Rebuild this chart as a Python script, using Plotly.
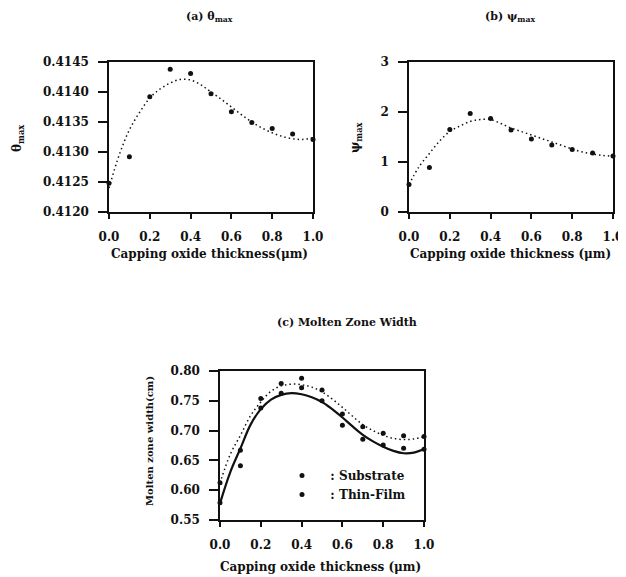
import plotly.graph_objects as go

W, H = 626, 577
OX, OY = 8, 8  # page body margin offset

# ---------------- data ----------------
x_pts = [0.0, 0.1, 0.2, 0.3, 0.4, 0.5, 0.6, 0.7, 0.8, 0.9, 1.0]
x_fit = [0.0, 0.05, 0.1, 0.15, 0.2, 0.25, 0.3, 0.35, 0.4, 0.45, 0.5,
         0.55, 0.6, 0.65, 0.7, 0.75, 0.8, 0.85, 0.9, 0.95, 1.0]

theta_pts = [0.41248, 0.41292, 0.41392, 0.41438, 0.41431, 0.41397,
             0.41367, 0.41349, 0.41339, 0.41330, 0.41321]
theta_fit = [0.41240, 0.41295, 0.41337, 0.41366, 0.41390, 0.41405, 0.41415,
             0.41421, 0.41420, 0.41412, 0.41400, 0.41388, 0.41375, 0.41362,
             0.41350, 0.41340, 0.41332, 0.41326, 0.41322, 0.41321, 0.41324]

psi_pts = [0.55, 0.89, 1.65, 1.97, 1.87, 1.64, 1.46, 1.34, 1.25, 1.18, 1.12]
psi_fit = [0.55, 0.91, 1.17, 1.42, 1.61, 1.72, 1.81, 1.85, 1.85, 1.77, 1.68,
           1.61, 1.54, 1.47, 1.40, 1.33, 1.26, 1.20, 1.16, 1.13, 1.12]

thin_pts = [0.6126, 0.667, 0.754, 0.779, 0.788, 0.768, 0.728, 0.7066,
            0.6954, 0.6915, 0.690]
sub_pts = [0.579, 0.641, 0.738, 0.7625, 0.772, 0.750, 0.709, 0.6853,
           0.6758, 0.6702, 0.6686]
thin_fit = [0.612, 0.660, 0.692, 0.725, 0.748, 0.766, 0.775, 0.778, 0.777,
            0.773, 0.765, 0.753, 0.739, 0.724, 0.710, 0.700, 0.692, 0.687,
            0.685, 0.686, 0.690]
sub_fit = [0.578, 0.630, 0.670, 0.710, 0.736, 0.752, 0.760, 0.763, 0.761,
           0.756, 0.748, 0.736, 0.722, 0.707, 0.693, 0.682, 0.673, 0.666,
           0.662, 0.663, 0.669]

x_ticks = [0.0, 0.2, 0.4, 0.6, 0.8, 1.0]
theta_ticks = [0.4120, 0.4125, 0.4130, 0.4135, 0.4140, 0.4145]
psi_ticks = [0, 1, 2, 3]
mzw_ticks = [0.55, 0.60, 0.65, 0.70, 0.75, 0.80]

# ---------------- style ----------------
SERIF = "DejaVu Serif"
INK = "#111111"
tick_font = dict(family=SERIF, size=12, color=INK, weight="bold")
DOT = "1.5px,3px"


def px(xp):
    return (xp - OX) / W


def py(yp):
    return 1 - (yp - OY) / H


fig = go.Figure()

marker = dict(symbol="circle", size=5, color=INK)
dotted = dict(color=INK, width=1.5, dash=DOT, shape="spline")

# (a)
fig.add_trace(go.Scatter(x=x_fit, y=theta_fit, mode="lines", line=dotted,
                         xaxis="x", yaxis="y", showlegend=False, cliponaxis=False))
fig.add_trace(go.Scatter(x=x_pts, y=theta_pts, mode="markers", marker=marker,
                         xaxis="x", yaxis="y", showlegend=False, cliponaxis=False))
# (b)
fig.add_trace(go.Scatter(x=x_fit, y=psi_fit, mode="lines", line=dotted,
                         xaxis="x2", yaxis="y2", showlegend=False, cliponaxis=False))
fig.add_trace(go.Scatter(x=x_pts, y=psi_pts, mode="markers", marker=marker,
                         xaxis="x2", yaxis="y2", showlegend=False, cliponaxis=False))
# (c)
fig.add_trace(go.Scatter(x=x_fit, y=thin_fit, mode="lines", line=dotted,
                         xaxis="x3", yaxis="y3", showlegend=False, cliponaxis=False))
fig.add_trace(go.Scatter(x=x_fit, y=sub_fit, mode="lines",
                         line=dict(color=INK, width=2.2, shape="spline"),
                         xaxis="x3", yaxis="y3", showlegend=False, cliponaxis=False))
fig.add_trace(go.Scatter(x=x_pts, y=thin_pts, mode="markers", marker=marker, name="  : Substrate",
                         xaxis="x3", yaxis="y3", showlegend=True, cliponaxis=False))
fig.add_trace(go.Scatter(x=x_pts, y=sub_pts, mode="markers", marker=marker, name="  : Thin-Film",
                         xaxis="x3", yaxis="y3", showlegend=True, cliponaxis=False))


def xaxis(domain, anchor):
    return dict(domain=domain, anchor=anchor, range=[0, 1.0], tickvals=x_ticks, tickformat=".1f",
                showline=True, linecolor=INK, linewidth=1.5, mirror=True, ticks="outside",
                ticklen=5, tickwidth=1.5, tickcolor=INK, showgrid=False, zeroline=False,
                tickfont=tick_font, ticklabelstandoff=8, automargin=False,
                ticklabeloverflow="allow")


def yaxis(domain, anchor, rng, ticks, fmt):
    return dict(domain=domain, anchor=anchor, range=rng, tickvals=ticks, tickformat=fmt,
                showline=True, linecolor=INK, linewidth=1.5, mirror=True, ticks="outside",
                ticklen=9, tickwidth=1.5, tickcolor=INK, showgrid=False, zeroline=False,
                tickfont=tick_font, ticklabelstandoff=7, automargin=False,
                ticklabeloverflow="allow")


dom_a_x = [px(109), px(313)]
dom_b_x = [px(409), px(613)]
dom_ab_y = [py(212), py(62)]
dom_c_x = [px(220), px(424)]
dom_c_y = [py(520), py(371)]

fig.update_layout(
    template="none",
    width=W, height=H,
    margin=dict(l=0, r=0, t=0, b=0, autoexpand=False),
    paper_bgcolor="white", plot_bgcolor="white",
    xaxis=xaxis(dom_a_x, "y"),
    yaxis=yaxis(dom_ab_y, "x", [0.4120, 0.4145], theta_ticks, ".4f"),
    xaxis2=xaxis(dom_b_x, "y2"),
    yaxis2=yaxis(dom_ab_y, "x2", [0, 3], psi_ticks, "d"),
    xaxis3=xaxis(dom_c_x, "y3"),
    yaxis3=yaxis(dom_c_y, "x3", [0.55, 0.80], mzw_ticks, ".2f"),
    legend=dict(x=px(282), y=py(461), xanchor="left", yanchor="top",
                bgcolor="rgba(0,0,0,0)", borderwidth=0,
                font=dict(family=SERIF, size=12, color=INK, weight="bold"),
                itemwidth=30, tracegroupgap=0),
    showlegend=True,
)

ann = []


def add_text(text, x, y, size=12, angle=0):
    ann.append(dict(text=text, x=px(x), y=py(y), xref="paper", yref="paper", showarrow=False,
                    textangle=angle, xanchor="center", yanchor="middle",
                    font=dict(family=SERIF, size=size, color=INK, weight="bold")))


add_text("(a) θ<sub>max</sub>", 210, 17, size=11)
add_text("(b) ψ<sub>max</sub>", 510, 17, size=11)
add_text("(c) Molten Zone Width", 347, 323, size=11)
add_text("Capping oxide thickness(μm)", 210, 254)
add_text("Capping oxide thickness (μm)", 510, 254)
add_text("Capping oxide thickness (μm)", 320, 567)
add_text("θ<sub>max</sub>", 18, 138, size=12, angle=-90)
add_text("ψ<sub>max</sub>", 356, 137, size=12, angle=-90)
add_text("Molten zone width(cm)", 149, 441, size=10, angle=-90)

fig.update_layout(annotations=ann)

fig.write_html("out.html")
